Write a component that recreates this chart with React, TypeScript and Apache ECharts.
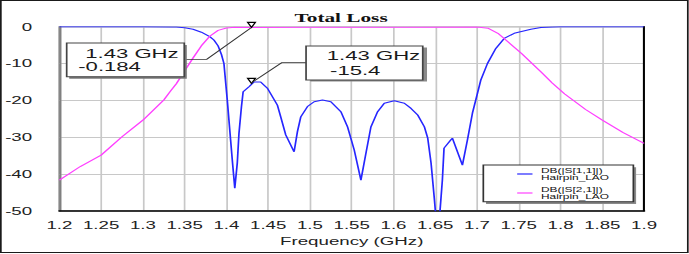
import React, { useEffect, useRef } from "react";
import * as echarts from "echarts";

// Reference is horizontally stretched; draw at base width and stretch with CSS.
const BASE_W = 405;
const H = 254;
const STRETCH = 689 / BASE_W;

const xTicksMin = 1.2;
const xTicksMax = 1.9;
const xInterval = 0.05;
const yMin = -50;
const yMax = 0;
const yInterval = 10;

const title = "Total Loss";
const xName = "Frequency (GHz)";
const seriesNames = ["DB(|S[1,1]|)", "DB(|S[2,1]|)"];
const seriesDoc = "Hairpin_LAO";

// DB(|S[1,1]|)
const s11Freq = [
  1.2, 1.3, 1.335, 1.34, 1.35, 1.36, 1.37, 1.38, 1.385, 1.39, 1.394, 1.397, 1.401, 1.405, 1.407, 1.41,
  1.413, 1.415, 1.418, 1.42, 1.427, 1.433, 1.441, 1.449, 1.461, 1.465, 1.471, 1.481, 1.485, 1.489,
  1.497, 1.505, 1.515, 1.525, 1.537, 1.545, 1.553, 1.561, 1.567, 1.573, 1.581, 1.589, 1.601, 1.613,
  1.621, 1.629, 1.637, 1.641, 1.645, 1.649, 1.653, 1.6585, 1.6605, 1.6685, 1.6705, 1.6825, 1.6885,
  1.6945, 1.7005, 1.7045, 1.7125, 1.7225, 1.7325, 1.7445, 1.7645, 1.7765, 1.79, 1.8, 1.9,
];
const s11Db = [
  0, 0, -0.05, -0.1, -0.3, -0.7, -1.5, -2.7, -3.6, -5.2, -7.5, -10, -19.9, -30.8, -36.2, -43.9,
  -37, -29, -21.7, -17.7, -16.3, -15, -15, -16.7, -21.3, -24.5, -29.4, -34, -28.5, -24.5,
  -21.7, -20.4, -19.9, -20.4, -23.1, -27.2, -33.5, -41.7, -34.4, -27.2, -23.1, -20.8, -20.1, -20.8,
  -22.2, -24, -27.2, -30.3, -37.1, -47, -58, -41.7, -33, -30.8, -30.3, -37.6, -30.8,
  -23.5, -18.1, -14.5, -10, -5.9, -3.2, -1.8, -0.7, -0.2, -0.05, 0, 0,
];

// DB(|S[2,1]|)
const s21Freq = [
  1.2, 1.225, 1.25, 1.275, 1.3, 1.325, 1.333, 1.34, 1.35, 1.36, 1.37, 1.38, 1.39, 1.4, 1.41, 1.43,
  1.5, 1.6, 1.7, 1.713, 1.725, 1.737, 1.753, 1.765, 1.777, 1.79, 1.805, 1.83, 1.85, 1.875, 1.9,
];
const s21Db = [
  -41.7, -38.0, -34.9, -29.9, -25.4, -19.9, -17.5, -15.5, -12.0, -8.5, -5.2, -2.6, -1.0, -0.35, -0.15, -0.184,
  -0.15, -0.15, -0.1, -0.4, -1.8, -4.1, -7.2, -9.8, -12.4, -15.3, -18.3, -22.5, -25.4, -28.8, -31.7,
];

const markerFreq = 1.43;
const markerS11 = -15.4;
const markerS21 = -0.184;

const FONT = "'Liberation Sans', Arial, sans-serif";

function zip(a: number[], b: number[]) {
  return a.map((v, i) => [v, b[i]]);
}

export default function App() {
  const ref = useRef<HTMLDivElement>(null);

  useEffect(() => {
    if (!ref.current) return;
    const chart = echarts.init(ref.current, null, { renderer: "svg" });

    const markStyle = {
      symbol: "triangle",
      symbolRotate: 180,
      symbolSize: [4.5, 5],
      symbolOffset: [0, -2.5],
      itemStyle: { color: "rgba(0,0,0,0)", borderColor: "#000", borderWidth: 1 },
      label: { show: false },
      silent: true,
    };

    const annText = (text: string, x: number, y: number) => ({
      type: "text",
      x,
      y,
      z: 20,
      style: {
        text,
        font: `13px ${FONT}`,
        fill: "#1a1a1a",
        align: "left",
        verticalAlign: "middle",
      },
    });

    const option: any = {
      animation: false,
      backgroundColor: "#fff",
      grid: {
        left: 34.7,
        right: 26.4,
        top: 26.7,
        bottom: 43.3,
        show: true,
        borderColor: "#6a6a6a",
        borderWidth: 1,
        backgroundColor: "#fff",
      },
      xAxis: {
        type: "value",
        min: xTicksMin,
        max: xTicksMax,
        interval: xInterval,
        name: xName,
        nameLocation: "middle",
        nameGap: 19,
        nameTextStyle: { fontFamily: FONT, fontSize: 11, color: "#222" },
        axisLine: { show: true, onZero: false, lineStyle: { color: "#000", width: 1.5 } },
        axisTick: { show: false },
        axisLabel: {
          fontFamily: FONT,
          fontSize: 11,
          color: "#222",
          margin: 9,
          formatter: (v: number) => String(+v.toFixed(2)),
        },
        splitLine: { show: true, lineStyle: { color: "#c8c8c8", width: 1 } },
      },
      yAxis: [
        {
          type: "value",
          min: yMin,
          max: yMax,
          interval: yInterval,
          axisLine: { show: true, onZero: false, lineStyle: { color: "#808080", width: 1.2 } },
          axisTick: { show: false },
          axisLabel: { fontFamily: FONT, fontSize: 11, color: "#222", margin: 16 },
          splitLine: { show: true, lineStyle: { color: "#c8c8c8", width: 1 } },
        },
        {
          type: "value",
          position: "right",
          min: yMin,
          max: yMax,
          interval: yInterval,
          axisLine: { show: true, onZero: false, lineStyle: { color: "#000", width: 1.2 } },
          axisTick: { show: false },
          axisLabel: { show: false },
          splitLine: { show: false },
        },
      ],
      legend: {
        show: true,
        orient: "vertical",
        left: 304,
        top: 166,
        padding: 0,
        itemGap: 3,
        itemWidth: 9,
        itemHeight: 1.2,
        icon: "rect",
        data: seriesNames,
        formatter: (name: string) => `${name}\n${seriesDoc}`,
        textStyle: { fontFamily: FONT, fontSize: 7, lineHeight: 8, color: "#111" },
        z: 12,
      },
      series: [
        {
          name: seriesNames[0],
          type: "line",
          data: zip(s11Freq, s11Db),
          showSymbol: false,
          symbol: "none",
          color: "#2626ff",
          lineStyle: { color: "#2626ff", width: 1 },
          clip: true,
          z: 3,
          markPoint: { ...markStyle, data: [{ coord: [markerFreq, markerS11] }] },
        },
        {
          name: seriesNames[1],
          type: "line",
          data: zip(s21Freq, s21Db),
          showSymbol: false,
          symbol: "none",
          color: "#ff40ff",
          lineStyle: { color: "#ff40ff", width: 1 },
          clip: true,
          z: 4,
          markPoint: { ...markStyle, data: [{ coord: [markerFreq, markerS21] }] },
        },
      ],
      graphic: [
        // outer frame
        {
          type: "rect",
          z: 0,
          silent: true,
          shape: { x: 0.5, y: 0.5, width: 403.8, height: 252 },
          style: { fill: "none", stroke: "#1a1a1a", lineWidth: 1 },
        },
        // title
        {
          type: "text",
          x: 200.5,
          y: 17.5,
          style: {
            text: title,
            font: "bold 12.5px 'Liberation Serif', 'Times New Roman', serif",
            fill: "#111",
            align: "center",
            verticalAlign: "middle",
          },
        },
        // legend box shadow + box
        {
          type: "rect",
          z: 10,
          shape: { x: 285.7, y: 167.3, width: 88.2, height: 36.7 },
          style: { fill: "#8a8a8a" },
        },
        {
          type: "rect",
          z: 11,
          shape: { x: 284.1, y: 165, width: 88.2, height: 36.7 },
          style: { fill: "#fff", stroke: "#333", lineWidth: 1 },
        },
        // annotation 1 (S21)
        {
          type: "polyline",
          z: 15,
          shape: { points: [[108.3, 59.3], [121.5, 59.3], [147.4, 28]] },
          style: { stroke: "#333", lineWidth: 0.8, fill: "none" },
        },
        {
          type: "rect",
          z: 16,
          shape: { x: 40.7, y: 45, width: 69.1, height: 33.7 },
          style: { fill: "#7a7a7a" },
        },
        {
          type: "rect",
          z: 17,
          shape: { x: 39.2, y: 43, width: 69.1, height: 33.7 },
          style: { fill: "#fff", stroke: "#444", lineWidth: 1 },
        },
        annText(" 1.43 GHz", 46.5, 53.8),
        annText("-0.184", 46, 66.8),
        // annotation 2 (S11)
        {
          type: "polyline",
          z: 15,
          shape: { points: [[179.9, 62.7], [165.6, 62.7], [147.4, 83.3]] },
          style: { stroke: "#333", lineWidth: 0.8, fill: "none" },
        },
        {
          type: "rect",
          z: 16,
          shape: { x: 182.4, y: 47.5, width: 68.6, height: 34 },
          style: { fill: "#8a8a8a" },
        },
        {
          type: "rect",
          z: 17,
          shape: { x: 179.9, y: 46, width: 68.6, height: 34 },
          style: { fill: "#fff", stroke: "#444", lineWidth: 1 },
        },
        annText(" 1.43 GHz", 188.5, 55.8),
        annText("-15.4", 194, 70.3),
      ],
    };

    chart.setOption(option);
    return () => chart.dispose();
  }, []);

  return (
    <div
      style={{
        position: "absolute",
        left: 0,
        top: 0,
        width: 689,
        height: H,
        overflow: "hidden",
        background: "#fff",
      }}
    >
      <div
        ref={ref}
        style={{
          width: BASE_W,
          height: H,
          transform: `scaleX(${STRETCH})`,
          transformOrigin: "0 0",
        }}
      />
    </div>
  );
}
